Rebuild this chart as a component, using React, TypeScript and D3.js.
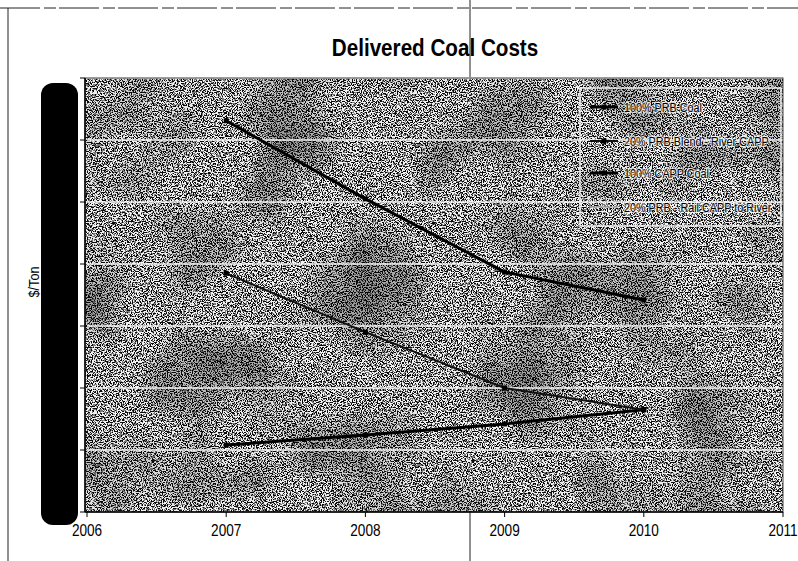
import React from "react";
import * as d3 from "d3";

const years = [2007, 2008, 2009, 2010];
const seriesNames = [
  "100% PRB Coal",
  "20% PRB Blend - River CAPP",
  "100% CAPP Coal",
  "20% PRB - Rail CAPP to River",
];
const prbCoal = [10.8, 12.4, 14.2, 16.5];
const blendRiver = [38.5, 29.0, 20.0, 16.5];
const cappCoal = [63.1, 50.5, 38.7, 34.2];
const railToRiver: number[] = [];
const xTicks = [2006, 2007, 2008, 2009, 2010, 2011];
const yTicks = [0, 10, 20, 30, 40, 50, 60, 70];

const W = 798;
const H = 561;
const left = 87;
const right = 783;
const top = 78;
const bottom = 512;

const x = d3.scaleLinear().domain([2006, 2011]).range([left, right]);
const y = d3.scaleLinear().domain([0, 70]).range([bottom, top]);

const seriesData = [prbCoal, blendRiver, cappCoal, railToRiver];
const seriesStroke = ["#000", "#111", "#000", "#9a9a9a"];
const seriesWidth = [3, 2, 3, 1.5];

const line = d3
  .line<[number, number]>()
  .x((d) => x(d[0]))
  .y((d) => y(d[1]));

const sans = "'Liberation Sans', Arial, sans-serif";

const thresh = Array.from({ length: 25 }, (_, i) => (i < 13 ? (i < 11 ? 0 : 0.2) : 1)).join(" ");

export default function App() {
  const legendRows = [107, 141, 173, 207];
  const pw = right - left + 2;
  const ph = bottom - top;
  return (
    <div style={{ position: "absolute", left: 0, top: 0 }}>
      <svg width={W} height={H} style={{ display: "block", background: "#fff" }}>
        <defs>
          <filter id="dither" x="0" y="0" width="100%" height="100%" filterUnits="objectBoundingBox">
            <feTurbulence type="fractalNoise" baseFrequency="0.8" numOctaves={2} seed={7} result="hi" />
            <feColorMatrix
              in="hi"
              type="matrix"
              values="1 0 0 0 0  1 0 0 0 0  1 0 0 0 0  0 0 0 0 1"
              result="g"
            />
            <feComponentTransfer in="g">
              <feFuncR type="discrete" tableValues={thresh} />
              <feFuncG type="discrete" tableValues={thresh} />
              <feFuncB type="discrete" tableValues={thresh} />
            </feComponentTransfer>
          </filter>
          <filter id="blotch" x="0" y="0" width="100%" height="100%" filterUnits="objectBoundingBox">
            <feTurbulence type="fractalNoise" baseFrequency="0.012" numOctaves={2} seed={4} result="lo" />
            <feColorMatrix
              in="lo"
              type="matrix"
              values="0 0 0 0 0  0 0 0 0 0  0 0 0 0 0  2.2 0 0 0 -1.0"
            />
          </filter>
        </defs>

        {/* scan artifacts / outer frame */}
        <line x1={0} x2={W} y1={8} y2={8} stroke="#222" strokeWidth={1} strokeDasharray="40 4 12 3" />
        <line x1={8} x2={8} y1={8} y2={H} stroke="#222" strokeWidth={1} />
        <line x1={470} x2={470} y1={0} y2={H} stroke="#222" strokeWidth={1} />

        {/* title */}
        <text
          transform="translate(435,56) scale(0.86,1)"
          textAnchor="middle"
          fontFamily={sans}
          fontWeight="bold"
          fontSize={24}
          fill="#000"
        >
          Delivered Coal Costs
        </text>

        {/* plot background */}
        <rect x={left - 2} y={top} width={pw} height={ph} fill="#777" />
        <rect x={left - 2} y={top} width={pw} height={ph} filter="url(#dither)" opacity={0.9} />
        <rect x={left - 2} y={top} width={pw} height={ph} filter="url(#blotch)" opacity={0.45} />

        {/* gridlines */}
        {yTicks.slice(1).map((t) => (
          <line
            key={"g" + t}
            x1={left}
            x2={right}
            y1={y(t)}
            y2={y(t)}
            stroke="#f4f4f4"
            strokeWidth={1.3}
          />
        ))}
        <rect x={left - 2} y={top} width={pw} height={ph} fill="none" stroke="#444" strokeWidth={1} />

        {/* axes */}
        <line x1={left - 2} x2={left - 2} y1={top} y2={bottom} stroke="#000" strokeWidth={1.5} />
        <line x1={left - 2} x2={right} y1={bottom} y2={bottom} stroke="#000" strokeWidth={1.5} />
        {yTicks.map((t) => (
          <line key={"yt" + t} x1={left - 7} x2={left - 2} y1={y(t)} y2={y(t)} stroke="#000" />
        ))}
        {xTicks.map((t) => (
          <g key={"xt" + t}>
            <line x1={x(t)} x2={x(t)} y1={bottom} y2={bottom + 5} stroke="#000" />
            <text
              transform={`translate(${x(t)},${bottom + 24}) scale(0.85,1)`}
              textAnchor="middle"
              fontFamily={sans}
              fontSize={16}
              fill="#000"
            >
              {t}
            </text>
          </g>
        ))}

        {/* series */}
        {seriesData.map((vals, i) => {
          const pts = vals.map((v, j) => [years[j], v] as [number, number]);
          if (pts.length === 0) return null;
          return (
            <g key={"s" + i}>
              <path
                d={line(pts) || ""}
                fill="none"
                stroke={seriesStroke[i]}
                strokeWidth={seriesWidth[i]}
                strokeLinejoin="round"
              />
              {pts.map((p, j) => (
                <rect
                  key={j}
                  x={x(p[0]) - 2.5}
                  y={y(p[1]) - 2.5}
                  width={5}
                  height={5}
                  fill="#000"
                />
              ))}
            </g>
          );
        })}

        {/* legend */}
        <rect x={580} y={88} width={201} height={138} fill="none" stroke="#eee" strokeWidth={1.5} />
        {seriesNames.map((name, i) => (
          <g key={"l" + i}>
            <line
              x1={590}
              x2={618}
              y1={legendRows[i]}
              y2={legendRows[i]}
              stroke={i === 3 ? "#bbb" : seriesStroke[i]}
              strokeWidth={seriesWidth[i]}
            />
            {i < 3 && <rect x={601.5} y={legendRows[i] - 2.5} width={5} height={5} fill="#000" />}
            <text
              transform={`translate(624,${legendRows[i] + 5}) scale(0.8,1)`}
              fontFamily={sans}
              fontSize={13.5}
              fill="none"
              stroke="#fff"
              strokeOpacity={0.75}
              strokeWidth={2.4}
              strokeLinejoin="round"
            >
              {name}
            </text>
            <text
              transform={`translate(624,${legendRows[i] + 5}) scale(0.8,1)`}
              fontFamily={sans}
              fontSize={13.5}
              fill="#000"
            >
              {name}
            </text>
          </g>
        ))}

        {/* y axis title and redaction */}
        <text
          transform="translate(39,282) rotate(-90) scale(0.9,1)"
          textAnchor="middle"
          fontFamily={sans}
          fontSize={14}
          fill="#000"
        >
          $/Ton
        </text>
        <rect x={41} y={83} width={37} height={442} rx={12} fill="#000" />
      </svg>
    </div>
  );
}
